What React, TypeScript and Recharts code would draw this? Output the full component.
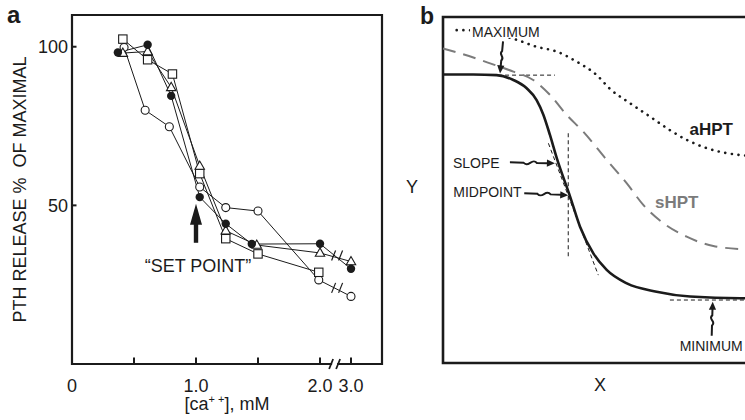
import React from 'react';
import {
  ComposedChart, Line, XAxis, YAxis, ReferenceArea, ReferenceLine, ReferenceDot,
} from 'recharts';

const FONT = '"Liberation Sans", Arial, Helvetica, sans-serif';
const INK = '#1b1b1b';
const GREY = '#7b7b7b';

// panel a: PTH release (% of maximal) against [Ca++] in mM, four glands
const filledCa = [0.37, 0.61, 0.80, 1.03, 1.24, 1.45, 2.0, 3.0];
const filledPth = [98.2, 100.6, 84.5, 52.6, 44.2, 37.8, 37.9, 30.0];
const triangleCa = [0.41, 0.61, 0.80, 1.03, 1.24, 1.49, 2.0, 3.0];
const trianglePth = [98.0, 98.5, 87.2, 62.4, 42.0, 37.5, 35.0, 32.3];
const squareCa = [0.41, 0.61, 0.81, 1.03, 1.24, 1.50, 1.99];
const squarePth = [102.4, 95.9, 91.4, 60.0, 39.5, 34.7, 28.9];
const openCa = [0.42, 0.59, 0.785, 1.03, 1.24, 1.50, 1.99, 3.0];
const openPth = [99.8, 80.0, 74.8, 55.8, 49.3, 48.2, 26.5, 21.3];

const caTicks = [0, 0.5, 1.0, 1.5, 2.0, 3.0];
const caTickLabels = ['0', '', '1.0', '', '2.0', '3.0'];
const pthTicks = [50, 100];

// panel b: schematic curves, arbitrary 0-100 units on both axes
const normalX = [0, 9.7, 17.3, 22.7, 27.0, 30.2, 32.4, 34.5, 36.7, 41.0, 44.2, 48.5, 52.8, 59.3, 68.9, 79.7, 95.8, 100];
const normalY = [83.4, 83.4, 83.2, 81.8, 79.4, 76.0, 71.7, 65.9, 59.2, 48.1, 39.4, 31.7, 26.9, 23.0, 20.6, 19.2, 18.7, 18.7];
const sHptX = [0, 5.5, 15.2, 22.7, 29.1, 34.5, 39.9, 45.3, 52.8, 59.3, 64.6, 71.1, 78.6, 87.2, 96.9, 100];
const sHptY = [90.9, 89.5, 86.6, 84.2, 81.8, 77.5, 71.7, 66.8, 58.7, 51.9, 45.7, 40.4, 36.5, 33.8, 32.9, 32.8];
const aHptX = [4.4, 7.1, 23.8, 30.2, 36.7, 43.1, 49.6, 53.9, 60.3, 66.8, 73.2, 78.6, 85.1, 95.8, 100];
const aHptY = [96.2, 96.2, 93.4, 91.4, 90.0, 87.1, 83.2, 79.2, 75.1, 71.2, 67.3, 64.5, 62.1, 60.1, 59.8];

// the 2.0 -> 3.0 stretch of the x axis is broken, squeeze it
const brk = (c: number) => (c > 2 ? 2 + (c - 2) * 0.25 : c);
const rowsA = (xs: number[], ys: number[]) => xs.map((c, i) => ({ x: brk(c), y: ys[i] }));
const rowsB = (xs: number[], ys: number[]) => xs.map((x, i) => ({ x, y: ys[i] }));

const txt = { fontFamily: FONT, fill: INK };

const filledDot = (p: any) => <circle key={p.index} cx={p.cx} cy={p.cy} r={4.2} fill={INK} />;
const openDot = (p: any) => (
  <circle key={p.index} cx={p.cx} cy={p.cy} r={4.0} fill="#fff" stroke={INK} strokeWidth={1.1} />
);
const squareDot = (p: any) => (
  <rect key={p.index} x={p.cx - 4.2} y={p.cy - 4.2} width={8.4} height={8.4} fill="#fff" stroke={INK} strokeWidth={1.1} />
);
const triangleDot = (p: any) => (
  <polygon key={p.index} points={`${p.cx},${p.cy - 5} ${p.cx - 4.7},${p.cy + 3.3} ${p.cx + 4.7},${p.cy + 3.3}`}
    fill="#fff" stroke={INK} strokeWidth={1.1} />
);

const breakMark = (p: any, onAxis = false) => (
  <g>
    {onAxis && <rect x={p.cx - 4} y={p.cy - 2} width={5} height={4} fill="#fff" />}
    <line x1={p.cx - 7} y1={p.cy + 5} x2={p.cx - 3} y2={p.cy - 5} stroke={INK} strokeWidth={onAxis ? 1.8 : 1.2} />
    <line x1={p.cx} y1={p.cy + 5} x2={p.cx + 4} y2={p.cy - 5} stroke={INK} strokeWidth={onAxis ? 1.8 : 1.2} />
  </g>
);

// tick renderers: label plus a short tick pointing into the frame
const X_GAP = 15;
const Y_GAP = 4;
const CaTick = (p: any) => {
  const i = caTicks.map(brk).indexOf(p.payload.value);
  return (
    <g>
      {i > 0 && <line x1={p.x} y1={p.y - X_GAP} x2={p.x} y2={p.y - X_GAP - 6.5} stroke={INK} strokeWidth={2} />}
      <text x={p.x} y={p.y} dy="0.71em" textAnchor="middle" fontSize={18} {...txt}>{caTickLabels[i] ?? ''}</text>
    </g>
  );
};
const PthTick = (p: any) => (
  <g>
    <line x1={p.x + Y_GAP} y1={p.y} x2={p.x + Y_GAP + 4.5} y2={p.y} stroke={INK} strokeWidth={2} />
    <text x={p.x} y={p.y} dy="0.355em" textAnchor="end" fontSize={18} {...txt}>{p.payload.value}</text>
  </g>
);

// squiggly annotation arrow from (x0,y0) to tip (x1,y1)
function wavyArrow(x0: number, y0: number, x1: number, y1: number, amp = 3.5) {
  const dx = x1 - x0, dy = y1 - y0;
  const len = Math.hypot(dx, dy);
  const ux = dx / len, uy = dy / len, nx = -uy, ny = ux;
  const P = (t: number, n: number) => `${x0 + ux * len * t + nx * n},${y0 + uy * len * t + ny * n}`;
  const th = 1 - 8 / len;
  return (
    <g>
      <path d={`M${P(0, 0)} L${P(0.3, 0)} C${P(0.42, amp * 1.6)} ${P(0.48, -amp * 1.6)} ${P(0.6, 0)} L${P(th + 0.02, 0)}`}
        fill="none" stroke={INK} strokeWidth={2} />
      <polygon points={`${P(1, 0)} ${P(th, 3.6)} ${P(th, -3.6)}`} fill={INK} />
    </g>
  );
}

export default function App() {
  return (
    <div style={{ position: 'absolute', left: 0, top: 0, width: 745, height: 420, overflow: 'hidden', background: '#fff' }}>
      {/* panel a */}
      <div style={{ position: 'absolute', left: 0, top: 0 }}>
        <ComposedChart width={400} height={420} margin={{ top: 15, right: 18, bottom: 0, left: 0 }}>
          <XAxis type="number" dataKey="x" domain={[0, 2.5]} ticks={caTicks.map(brk)} interval={0}
            axisLine={false} tickLine={false} tickSize={0} tickMargin={X_GAP} height={56}
            tick={CaTick}
            label={(props: any) => {
              const vb = props.viewBox;
              return (
                <text x={vb.x + vb.width / 2} y={vb.y + 46} textAnchor="middle" fontSize={18} {...txt}>
                  [ca<tspan fontSize={11} dy={-7}>+ +</tspan><tspan dy={7}>], mM</tspan>
                </text>
              );
            }}
          />
          <YAxis type="number" domain={[0, 110]} ticks={pthTicks} width={72}
            axisLine={false} tickLine={false} tickSize={0} tickMargin={Y_GAP}
            tick={PthTick}
            label={(props: any) => {
              const vb = props.viewBox;
              const cy = vb.y + vb.height / 2;
              return (
                <g>
                  <text x={7} y={23} fontSize={24} fontWeight="bold" {...txt}>a</text>
                  <text x={20} y={cy} transform={`rotate(-90, 20, ${cy})`} textAnchor="middle"
                    dominantBaseline="central" fontSize={18} style={{ whiteSpace: 'pre' }} {...txt}>
                    {'PTH RELEASE %  OF MAXIMAL'}
                  </text>
                </g>
              );
            }}
          />
          <ReferenceArea x1={0} x2={2.5} y1={0} y2={110} fill="none" fillOpacity={0} stroke={INK} strokeWidth={2.2} />
          <Line data={rowsA(openCa, openPth)} dataKey="y" stroke={INK} strokeWidth={1} dot={openDot} isAnimationActive={false} />
          <Line data={rowsA(squareCa, squarePth)} dataKey="y" stroke={INK} strokeWidth={1} dot={squareDot} isAnimationActive={false} />
          <Line data={rowsA(triangleCa, trianglePth)} dataKey="y" stroke={INK} strokeWidth={1} dot={triangleDot} isAnimationActive={false} />
          <Line data={rowsA(filledCa, filledPth)} dataKey="y" stroke={INK} strokeWidth={1} dot={filledDot} isAnimationActive={false} />
          <ReferenceDot x={2.15} y={34.2} r={0} shape={(p: any) => breakMark(p)} />
          <ReferenceDot x={2.15} y={24.0} r={0} shape={(p: any) => breakMark(p)} />
          <ReferenceDot x={2.13} y={0} r={0} ifOverflow="visible" shape={(p: any) => breakMark(p, true)} />
          <ReferenceDot x={1.0} y={50.5} r={0} shape={(p: any) => (
            <g>
              <polygon points={`${p.cx},${p.cy} ${p.cx - 6},${p.cy + 21} ${p.cx + 6},${p.cy + 21}`} fill={INK} />
              <rect x={p.cx - 2.2} y={p.cy + 20} width={4.4} height={19} fill={INK} />
              <text x={p.cx + 2} y={p.cy + 68} textAnchor="middle" fontSize={18} {...txt}>“SET POINT”</text>
            </g>
          )} />
        </ComposedChart>
      </div>

      {/* panel b */}
      <div style={{ position: 'absolute', left: 400, top: 0 }}>
        <ComposedChart width={360} height={420} margin={{ top: 17, right: 7, bottom: 0, left: 0 }}>
          <XAxis type="number" dataKey="x" domain={[0, 100]} height={57} tick={false} tickLine={false} axisLine={false}
            label={(props: any) => {
              const vb = props.viewBox;
              return <text x={200} y={vb.y + 28} textAnchor="middle" fontSize={18} {...txt}>X</text>;
            }}
          />
          <YAxis type="number" domain={[0, 100]} width={43} tick={false} tickLine={false} axisLine={false}
            label={(props: any) => {
              const vb = props.viewBox;
              return (
                <g>
                  <text x={20} y={24} fontSize={23} fontWeight="bold" {...txt}>b</text>
                  <text x={12} y={vb.y + 176} textAnchor="middle" fontSize={18} {...txt}>Y</text>
                </g>
              );
            }}
          />
          <ReferenceArea x1={0} x2={100} y1={0} y2={100} fill="none" fillOpacity={0} stroke={INK} strokeWidth={2.6} />
          <ReferenceLine segment={[{ x: 15.5, y: 83.2 }, { x: 36.1, y: 83.2 }]} stroke={INK} strokeDasharray="4 3" />
          <ReferenceLine segment={[{ x: 34.0, y: 63.5 }, { x: 50.1, y: 25.4 }]} stroke={INK} strokeDasharray="4 3" />
          <ReferenceLine segment={[{ x: 40.4, y: 66.4 }, { x: 40.4, y: 30.3 }]} stroke={INK} strokeDasharray="4 3" />
          <ReferenceLine segment={[{ x: 73.2, y: 18.2 }, { x: 100, y: 18.2 }]} stroke={INK} strokeDasharray="4 3" />
          <Line data={rowsB(aHptX, aHptY)} dataKey="y" type="monotone" stroke={INK} strokeWidth={2.6}
            strokeDasharray="0.1 6.6" strokeLinecap="round" dot={false} isAnimationActive={false} />
          <Line data={rowsB(sHptX, sHptY)} dataKey="y" type="monotone" stroke={GREY} strokeWidth={2}
            strokeDasharray="13 8" dot={false} isAnimationActive={false} />
          <Line data={rowsB(normalX, normalY)} dataKey="y" type="monotone" stroke={INK} strokeWidth={2.6}
            dot={false} isAnimationActive={false} />
          <ReferenceDot x={79.5} y={65.9} r={0} shape={(p: any) => (
            <text x={p.cx} y={p.cy} fontSize={17} fontWeight="bold" {...txt}>aHPT</text>
          )} />
          <ReferenceDot x={68.4} y={44.8} r={0} shape={(p: any) => (
            <text x={p.cx} y={p.cy} fontSize={17} fontWeight="bold" fontFamily={FONT} fill={GREY}>sHPT</text>
          )} />
          <ReferenceDot x={18.4} y={83.7} r={0} shape={(p: any) => (
            <g>
              <rect x={p.cx - 30} y={p.cy - 48} width={74} height={12.5} fill="#fff" />
              <text x={p.cx - 28} y={p.cy - 36.6} fontSize={14} {...txt}>MAXIMUM</text>
              {wavyArrow(p.cx + 3, p.cy - 32, p.cx, p.cy, 2.5)}
            </g>
          )} />
          <ReferenceDot x={36.1} y={57.7} r={0} shape={(p: any) => (
            <g>
              <text x={p.cx - 102} y={p.cy + 5} fontSize={14} {...txt}>SLOPE</text>
              {wavyArrow(p.cx - 45, p.cy - 1, p.cx, p.cy)}
            </g>
          )} />
          <ReferenceDot x={40.4} y={48.5} r={0} shape={(p: any) => (
            <g>
              <text x={p.cx - 115} y={p.cy + 2} fontSize={14} {...txt}>MIDPOINT</text>
              {wavyArrow(p.cx - 44, p.cy - 2, p.cx, p.cy)}
            </g>
          )} />
          <ReferenceDot x={87.0} y={17.7} r={0} shape={(p: any) => (
            <g>
              {wavyArrow(p.cx - 1, p.cy + 34, p.cx, p.cy, 3)}
              <text x={p.cx - 33} y={p.cy + 49} fontSize={14} {...txt}>MINIMUM</text>
            </g>
          )} />
        </ComposedChart>
      </div>
    </div>
  );
}
